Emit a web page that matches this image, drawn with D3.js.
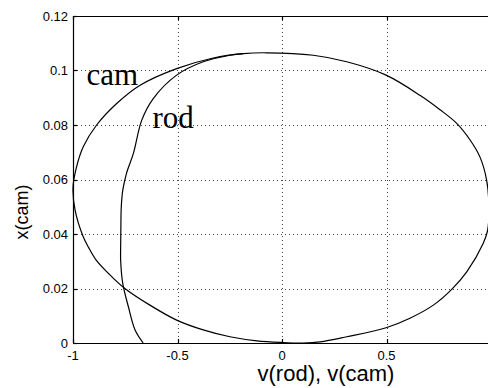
<!DOCTYPE html>
<html><head><meta charset="utf-8">
<script src="https://cdn.jsdelivr.net/npm/d3@7"></script>
<style>body{margin:0;background:#fff}svg{display:block}</style>
</head><body>
<script>
// cam curve (closed): v(cam), x(cam)
const camV = [-0.073,-0.185,-0.329,-0.504,-0.679,-0.791,-0.887,-0.951,-0.985,-1.0,-0.99,-0.951,-0.925,-0.89,-0.83,-0.755,-0.632,-0.504,-0.377,-0.249,-0.12,0.0,0.1,0.182,0.31,0.498,0.612,0.724,0.812,0.884,0.963,0.984,0.99,0.979,0.947,0.90,0.836,0.756,0.66,0.498,0.31,0.15];
const camX = [0.1065,0.1062,0.1046,0.1007,0.0946,0.0879,0.080,0.072,0.064,0.057,0.0488,0.039,0.035,0.0305,0.0255,0.0202,0.0139,0.0084,0.0048,0.0023,0.0008,0.0002,0.0,0.0004,0.0023,0.0056,0.0091,0.0139,0.0197,0.0261,0.0366,0.0414,0.050,0.0598,0.0683,0.0745,0.0806,0.0856,0.0909,0.0983,0.1032,0.1056];
// rod curve (branch distinct from the cam curve)
const rodV = [-0.185,-0.249,-0.377,-0.504,-0.616,-0.671,-0.711,-0.745,-0.762,-0.769,-0.771,-0.772,-0.772,-0.762,-0.735,-0.703,-0.664];
const rodX = [0.1062,0.1056,0.1032,0.0983,0.0897,0.0818,0.0696,0.0620,0.0560,0.0500,0.042,0.035,0.0304,0.0219,0.0133,0.0048,0.0];
const xTicks = [-1,-0.5,0,0.5];
const xTickLabels = ["-1","-0.5","0","0.5"];
const yTicks = [0,0.02,0.04,0.06,0.08,0.1,0.12];
const yTickLabels = ["0","0.02","0.04","0.06","0.08","0.1","0.12"];
const xTitle = "v(rod), v(cam)";
const yTitle = "x(cam)";
const curveLabels = [{t:"cam", v:-0.935, x:0.0945},{t:"rod", v:-0.62, x:0.0790}];

const W=488,H=388;
const L=73,R=491,T=16,B=343;
const svg=d3.select("body").append("svg").attr("width",W).attr("height",H);
svg.append("rect").attr("width",W).attr("height",H).attr("fill","#fff");
const x=d3.scaleLinear().domain([-1,1]).range([L,R]);
const y=d3.scaleLinear().domain([0,0.12]).range([B,T]);

// grid
const g=svg.append("g");
g.selectAll(".vg").data(xTicks.filter(d=>d>-1)).join("line")
 .attr("x1",d=>Math.round(x(d))+0.5).attr("x2",d=>Math.round(x(d))+0.5).attr("y1",T).attr("y2",B)
 .attr("stroke","#444").attr("stroke-width",1).attr("stroke-dasharray","1,3");
g.selectAll(".hg").data(yTicks.filter(d=>d>0&&d<0.12)).join("line")
 .attr("y1",d=>Math.round(y(d))+0.5).attr("y2",d=>Math.round(y(d))+0.5).attr("x1",L).attr("x2",R)
 .attr("stroke","#444").attr("stroke-width",1).attr("stroke-dasharray","1,3");

// axes box
const ax=svg.append("g").attr("stroke","#000").attr("stroke-width",1.2).attr("fill","none");
ax.append("line").attr("x1",L).attr("x2",R).attr("y1",B+0.5).attr("y2",B+0.5);
ax.append("line").attr("x1",L).attr("x2",R).attr("y1",T+0.5).attr("y2",T+0.5);
ax.append("line").attr("x1",L+0.5).attr("x2",L+0.5).attr("y1",T).attr("y2",B);
ax.append("line").attr("x1",R-0.5).attr("x2",R-0.5).attr("y1",T).attr("y2",B);
// inward ticks
ax.selectAll(".yt").data(yTicks).join("line").attr("x1",L).attr("x2",L+4)
 .attr("y1",d=>Math.round(y(d))+0.5).attr("y2",d=>Math.round(y(d))+0.5);
ax.selectAll(".xt").data(xTicks).join("line").attr("y1",B).attr("y2",B-4)
 .attr("x1",d=>Math.round(x(d))+0.5).attr("x2",d=>Math.round(x(d))+0.5);
ax.selectAll(".xtt").data(xTicks).join("line").attr("y1",T).attr("y2",T+4)
 .attr("x1",d=>Math.round(x(d))+0.5).attr("x2",d=>Math.round(x(d))+0.5);

// tick labels
const tf="'Liberation Sans', Arial, sans-serif";
svg.selectAll(".ytl").data(yTicks).join("text")
 .attr("x",L-5).attr("y",d=>y(d)+4.5).attr("text-anchor","end")
 .attr("font-family",tf).attr("font-size",13).attr("fill","#000")
 .text((d,i)=>yTickLabels[i]);
svg.selectAll(".xtl").data(xTicks).join("text")
 .attr("x",d=>x(d)).attr("y",B+16.5).attr("text-anchor","middle")
 .attr("font-family",tf).attr("font-size",13).attr("fill","#000")
 .text((d,i)=>xTickLabels[i]);

// titles
svg.append("text").attr("x",326).attr("y",381).attr("text-anchor","middle")
 .attr("font-family",tf).attr("font-size",22).attr("fill","#000").text(xTitle);
svg.append("text").attr("transform","translate(28,212) rotate(-90)").attr("text-anchor","middle")
 .attr("font-family",tf).attr("font-size",18).attr("fill","#000").text(yTitle);

// curves
svg.append("path").datum(camV.map((v,i)=>[v,camX[i]]))
 .attr("d",d3.line().x(d=>x(d[0])).y(d=>y(d[1])).curve(d3.curveCatmullRomClosed.alpha(0.5)))
 .attr("fill","none").attr("stroke","#000").attr("stroke-width",1.2);
svg.append("path").datum(rodV.map((v,i)=>[v,rodX[i]]))
 .attr("d",d3.line().x(d=>x(d[0])).y(d=>y(d[1])).curve(d3.curveCatmullRom.alpha(0.5)))
 .attr("fill","none").attr("stroke","#000").attr("stroke-width",1.2);

// curve labels
svg.selectAll(".cl").data(curveLabels).join("text")
 .attr("x",d=>x(d.v)).attr("y",d=>y(d.x))
 .attr("font-family","'Liberation Serif', 'Times New Roman', serif").attr("font-size",31).attr("fill","#000")
 .text(d=>d.t);
</script>
</body></html>
